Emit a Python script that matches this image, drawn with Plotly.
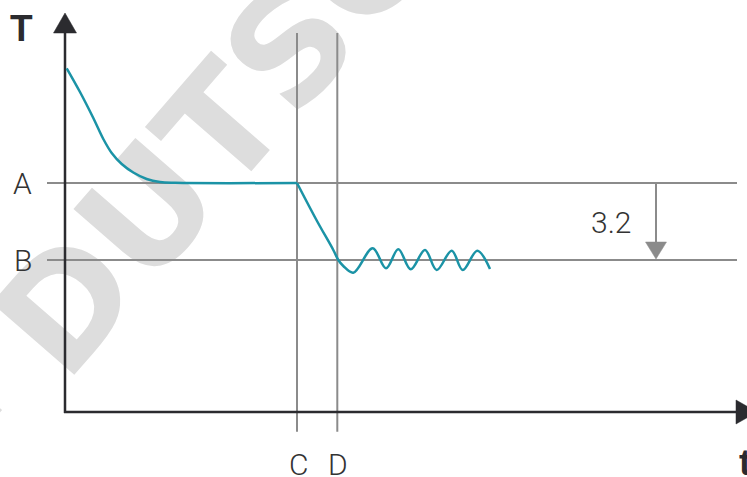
import math
import plotly.graph_objects as go

# ---- reference levels (T) and times (t) ----
T_A = 229.0
T_B = 152.0
t_C = 232.0
t_D = 272.3
drop_label = "3.2"
t_drop = 591.0

# ---- cooling curve to level A ----
t_cool = [1.7, 15, 28.3, 38.3, 46.7, 56.7, 68.3, 81.7, 95, 110, 232]
T_cool = [343.7, 320, 294, 273, 259, 248, 239.5, 233, 230, 229.2, 229]

# ---- quench from C, oscillating around B ----
t_quench = [232, 252, 268.3, 273.3, 278.3, 288.3, 307.7, 321, 333.3, 345.7,
            360, 371.7, 386.7, 397.7, 412.3, 425]
T_quench = [229, 191, 162, 152, 146, 139.3, 163.7, 143.7, 162.7, 142.7,
            162, 142, 161.3, 142, 161.3, 143]

# axis extents
X_MIN, X_MAX = -65, 682
Y_MIN, Y_MAX = -65, 412
Y_AXIS_TOP = 379       # start of y arrowhead
X_AXIS_END = 671       # start of x arrowhead

TEAL = "#1b93a6"
GREY = "#8b8b8b"
DARK = "#2b2b2f"
TXT = "#333333"
WM = "#dddddd"

fig = go.Figure()

# curve
fig.add_trace(go.Scatter(x=t_cool, y=T_cool, mode="lines", line=dict(color=TEAL, width=2.5, shape="spline", smoothing=1.0),
                         hoverinfo="skip", showlegend=False))
fig.add_trace(go.Scatter(x=t_quench, y=T_quench, mode="lines", line=dict(color=TEAL, width=2.5, shape="spline", smoothing=1.0),
                         hoverinfo="skip", showlegend=False))

# arrowheads (filled triangles)
def tri(xs, ys, color):
    fig.add_trace(go.Scatter(x=xs, y=ys, mode="lines", fill="toself", fillcolor=color,
                             line=dict(color=color, width=0.5), hoverinfo="skip", showlegend=False))

tri([-11.5, 11.5, 0, -11.5], [Y_AXIS_TOP, Y_AXIS_TOP, 399, Y_AXIS_TOP], DARK)
tri([X_AXIS_END, X_AXIS_END, X_AXIS_END + 21, X_AXIS_END], [-12, 12, 0, -12], DARK)
tri([t_drop - 10.5, t_drop + 10.5, t_drop, t_drop - 10.5], [170, 170, T_B + 1, 170], GREY)

shapes = []
# watermark (drawn below everything)
ang = math.radians(49)
cx, cy = 97, 234
d = 100
shapes.append(dict(type="line", layer="below", xref="x", yref="y",
                   x0=cx - d * math.cos(ang), y0=cy - d * math.sin(ang),
                   x1=cx + d * math.cos(ang), y1=cy + d * math.sin(ang),
                   line=dict(color="rgba(0,0,0,0)", width=0),
                   label=dict(text="<b>– DUTSC</b>", textangle=-49, textposition="middle",
                              yanchor="middle", xanchor="center", padding=0,
                              font=dict(family="DejaVu Sans", size=150, color=WM))))
# reference lines
for yv in (T_A, T_B):
    shapes.append(dict(type="line", layer="below", xref="x", yref="y", x0=-18, x1=672, y0=yv, y1=yv,
                       line=dict(color=GREY, width=2)))
for xv in (t_C, t_D):
    shapes.append(dict(type="line", layer="below", xref="x", yref="y", x0=xv, x1=xv, y0=-19.7, y1=379,
                       line=dict(color=GREY, width=2)))
# drop arrow shaft
shapes.append(dict(type="line", layer="below", xref="x", yref="y", x0=t_drop, x1=t_drop, y0=T_A, y1=170,
                   line=dict(color=GREY, width=2)))
# axes
shapes.append(dict(type="line", layer="below", xref="x", yref="y", x0=0, x1=0, y0=-1, y1=Y_AXIS_TOP + 2,
                   line=dict(color=DARK, width=2.5)))
shapes.append(dict(type="line", layer="below", xref="x", yref="y", x0=-1, x1=X_AXIS_END + 2, y0=0, y1=0,
                   line=dict(color=DARK, width=2.5)))

light = dict(family="Roboto", size=30, color=TXT, weight=300)
bold = dict(family="Liberation Sans", size=37, color=DARK, weight="bold")
annotations = [
    dict(x=-42.5, y=T_A, text="A", font=light),
    dict(x=-42, y=T_B, text="B", font=light),
    dict(x=t_C + 1.5, y=-52, text="C", font=light),
    dict(x=t_D + 1, y=-52, text="D", font=light),
    dict(x=546, y=190, text=drop_label, font=light),
    dict(x=-43.5, y=383.5, text="T", font=bold),
    dict(x=680, y=-50, text="t", font=bold),
]
for a in annotations:
    a.update(xref="x", yref="y", showarrow=False, xanchor="center", yanchor="middle")

fig.update_layout(
    width=747, height=477, autosize=False,
    margin=dict(l=0, r=0, t=0, b=0),
    paper_bgcolor="white", plot_bgcolor="white",
    xaxis=dict(range=[X_MIN, X_MAX], visible=False, fixedrange=True),
    yaxis=dict(range=[Y_MIN, Y_MAX], visible=False, fixedrange=True),
    shapes=shapes, annotations=annotations, showlegend=False,
)
fig.write_html("out.html", config={"displayModeBar": False},
               post_script="document.body.style.margin='0px';document.body.style.overflow='hidden';")
